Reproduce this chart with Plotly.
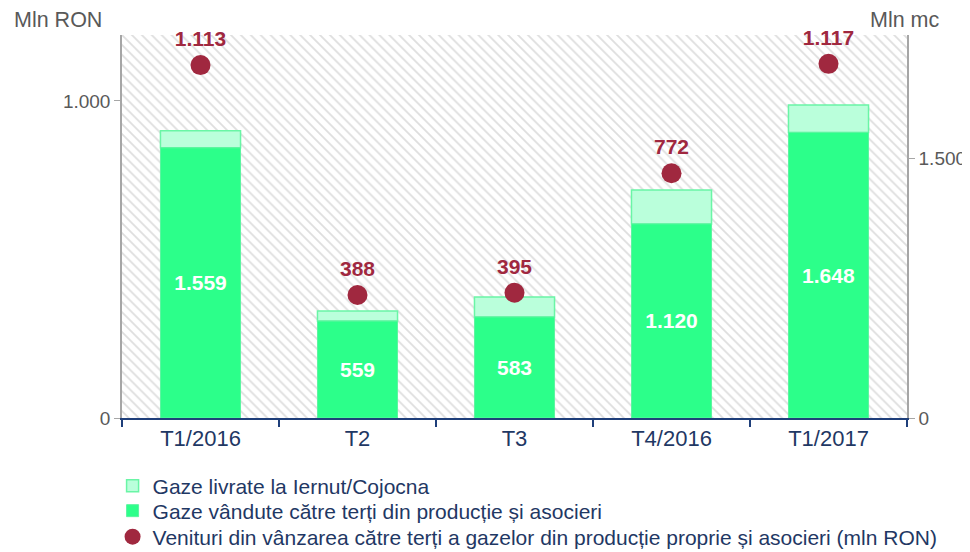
import plotly.graph_objects as go

categories = ["T1/2016", "T2", "T3", "T4/2016", "T1/2017"]
gaze_vandute = [1559, 559, 583, 1120, 1648]        # Mln mc
gaze_livrate = [98, 58, 115, 196, 158]             # Mln mc
venituri = [1113, 388, 395, 772, 1117]             # Mln RON

def fmt(v):
    return f"{v:,}".replace(",", ".")

RIGHT_MAX = 2210
LEFT_MAX = 1208
FONT = "Liberation Sans, Arial, sans-serif"

fig = go.Figure()

# hatched background
fig.add_trace(go.Bar(
    x=[categories[2]], y=[RIGHT_MAX], width=[5], yaxis="y",
    marker=dict(color="white", line=dict(width=0),
                pattern=dict(shape="\\", fgcolor="#BDBDBD", bgcolor="white", size=7, solidity=0.25)),
    showlegend=False, hoverinfo="skip"))

fig.add_trace(go.Bar(
    x=categories, y=gaze_livrate, base=gaze_vandute, width=0.51, yaxis="y",
    name="Gaze livrate la Iernut/Cojocna", legend="legend",
    marker=dict(color="#BAFFDB", line=dict(color="#6AF5A6", width=1.5))))

fig.add_trace(go.Bar(
    x=categories, y=gaze_vandute, width=0.51, yaxis="y",
    name="Gaze vândute către terți din producție și asocieri", legend="legend2",
    text=[fmt(v) for v in gaze_vandute], textposition="inside", insidetextanchor="middle",
    textfont=dict(color="white", size=21, family=FONT, weight="bold"),
    marker=dict(color="#2CFF8A", line=dict(color="#5CF5A0", width=1))))

fig.add_trace(go.Scatter(
    x=categories, y=venituri, yaxis="y2", mode="markers+text", cliponaxis=False,
    name="Venituri din vânzarea către terți a gazelor din producție proprie și asocieri (mln RON)",
    legend="legend3",
    marker=dict(color="#A0283F", size=20),
    text=[fmt(v) for v in venituri], textposition="top center",
    textfont=dict(color="#A0283F", size=21, family=FONT, weight="bold")))

leg_common = dict(orientation="v", x=-0.012, xanchor="left", yanchor="middle",
                  font=dict(size=21, color="#1F3864"), itemwidth=30,
                  bgcolor="rgba(0,0,0,0)", borderwidth=0)

# the page body adds an 8px offset; the figure is sized to fill the rest of the window
fig.update_layout(
    width=962, height=544,
    margin=dict(l=114, r=63, t=27, b=134, autoexpand=False),
    paper_bgcolor="white", plot_bgcolor="white",
    barmode="overlay",
    font=dict(family=FONT, color="#595959"),
    xaxis=dict(type="category", categoryorder="array", categoryarray=categories,
               range=[-0.5, 4.5], showline=True, linecolor="#1F3F7A", linewidth=2,
               ticks="outside", tickson="boundaries", ticklen=7, tickcolor="#1F3F7A", tickwidth=2,
               tickfont=dict(size=22, color="#1F3864"), showgrid=False),
    yaxis=dict(side="right", range=[0, RIGHT_MAX], tickvals=[0, 1500], ticktext=["0", "1.500"],
               showline=True, linecolor="#A6A6A6", linewidth=1.5, ticks="outside", ticklen=6,
               tickcolor="#A6A6A6", tickfont=dict(size=19, color="#595959"), showgrid=False,
               zeroline=False),
    yaxis2=dict(side="left", overlaying="y", range=[0, LEFT_MAX], tickvals=[0, 1000],
                ticktext=["0", "1.000"], showline=True, linecolor="#A6A6A6", linewidth=1.5,
                ticks="outside", ticklen=6, tickcolor="#A6A6A6",
                tickfont=dict(size=19, color="#595959"), showgrid=False, zeroline=False),
    legend=dict(y=-0.1775, **leg_common),
    legend2=dict(y=-0.2428, **leg_common),
    legend3=dict(y=-0.3107, **leg_common),
    showlegend=True,
    annotations=[
        dict(text="Mln RON", xref="paper", yref="paper", x=-0.14, y=1.0, yshift=15,
             xanchor="left", yanchor="middle", showarrow=False, font=dict(size=21.5, color="#595959")),
        dict(text="Mln mc", xref="paper", yref="paper", x=1.0, xshift=-39, y=1.0, yshift=15,
             xanchor="left", yanchor="middle", showarrow=False, font=dict(size=21.5, color="#595959")),
    ],
)

fig.write_html("out.html")
